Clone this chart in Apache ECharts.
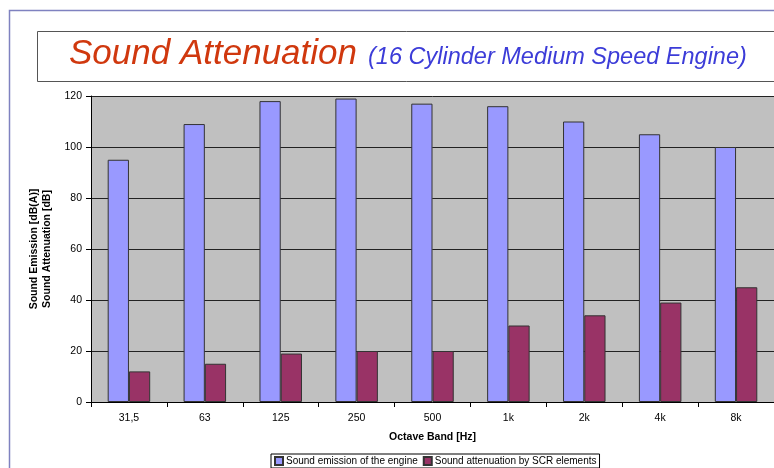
<!DOCTYPE html>
<html><head><meta charset="utf-8">
<script src="https://cdn.jsdelivr.net/npm/echarts@6/dist/echarts.min.js"></script>
<style>html,body{margin:0;padding:0;background:#fff}#c{width:774px;height:468px}</style>
</head><body><div id="c"></div>
<script>
const categories = ['31,5','63','125','250','500','1k','2k','4k','8k'];
const emission = [95,109,118,119,117,116,110,105,100];
const attenuation = [12,15,19,20,20,30,34,39,45];
const yTicks = [0,20,40,60,80,100,120];

const chart = echarts.init(document.getElementById('c'));
const font = 'Liberation Sans, Arial, sans-serif';
chart.setOption({
  animation: false,
  backgroundColor: '#fff',
  graphic: [
    {type:'polyline', shape:{points:[[9.5,470],[9.5,10.5],[780,10.5]]}, style:{stroke:'#7f82c0', lineWidth:1.5, fill:null}},
    {type:'rect', shape:{x:37.5,y:31.5,width:760,height:50}, style:{fill:'#fff', stroke:'#555', lineWidth:1}},
    {type:'text', left:69, top:37, style:{
      text:'{a|Sound Attenuation}{b|(16 Cylinder Medium Speed Engine)}',
      rich:{
        a:{fontFamily:font, fontStyle:'italic', fontSize:35, fill:'#d0380e', verticalAlign:'bottom'},
        b:{fontFamily:font, fontStyle:'italic', fontSize:23.5, fill:'#3c3cd8', verticalAlign:'bottom', padding:[0,0,3,11]}
      }
    }}
  ],
  grid: {left:91, top:96, width:684, height:306, show:true, backgroundColor:'#c0c0c0', borderWidth:0},
  legend: {
    left:271, top:454, padding:[2,3], itemGap:5, itemWidth:8, itemHeight:8,
    borderColor:'#000', borderWidth:1, borderRadius:0, backgroundColor:'#fff',
    icon:'rect',
    textStyle:{fontFamily:font, fontSize:10, color:'#000', padding:[0,0,0,-2]},
    data:['Sound emission of the engine','Sound attenuation by SCR elements']
  },
  xAxis: {
    type:'category', data:categories,
    name:'Octave Band [Hz]', nameLocation:'middle', nameGap:30,
    nameTextStyle:{fontFamily:font, fontWeight:'bold', fontSize:10.5, color:'#000'},
    axisLine:{lineStyle:{color:'#000', width:1}},
    axisTick:{show:true, length:5, lineStyle:{color:'#000'}},
    axisLabel:{fontFamily:font, fontSize:10.5, color:'#000', margin:11}
  },
  yAxis: {
    type:'value', min:0, max:120, interval:20,
    name:'Sound Emission [dB(A)]\nSound Attenuation [dB]', nameLocation:'middle', nameRotate:90, nameGap:37,
    nameTextStyle:{fontFamily:font, fontWeight:'bold', fontSize:10.5, color:'#000', lineHeight:13, align:'center'},
    axisLine:{show:true, lineStyle:{color:'#000'}},
    axisTick:{show:true, length:5, lineStyle:{color:'#000'}},
    axisLabel:{fontFamily:font, fontSize:10.5, color:'#000', margin:9,
      formatter: v => yTicks.includes(v) ? String(v) : ''},
    splitLine:{show:true, lineStyle:{color:'#222', width:1}}
  },
  series: [
    {name:'Sound emission of the engine', type:'bar', data:emission, barGap:'0%', barCategoryGap:'44%',
     itemStyle:{color:'#9999ff', borderColor:'#333', borderWidth:1}},
    {name:'Sound attenuation by SCR elements', type:'bar', data:attenuation,
     itemStyle:{color:'#993366', borderColor:'#333', borderWidth:1}}
  ]
});
</script></body></html>
